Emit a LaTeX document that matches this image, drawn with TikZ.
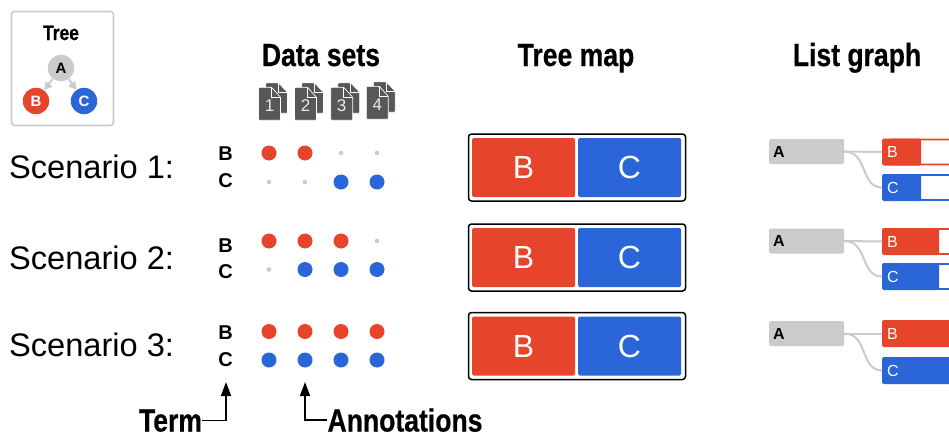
\documentclass[tikz,border=0pt]{standalone}
\usepackage{graphicx}
\usepackage{fontspec}
\setmainfont{Liberation Sans}
\newfontfamily\headfont[BoldFeatures={FakeBold=0.6}]{Liberation Sans}
\usetikzlibrary{arrows.meta}
\definecolor{myred}{HTML}{E6442B}
\definecolor{myblue}{HTML}{2B66D9}
\definecolor{mygray}{HTML}{CBCBCB}
\definecolor{docgray}{HTML}{575757}
\newcommand{\cond}[1]{\scalebox{0.83}[1]{#1}}
\tikzset{
  x=1pt,y=-1pt,
  treebox/.style={draw=mygray,line width=1.6pt,rounded corners=3pt,fill=white},
  treenode/.style={circle,inner sep=0pt,minimum size=26.5pt,font=\bfseries\fontsize{15}{15}\selectfont},
  title/.style={inner sep=0pt,anchor=base,font=\headfont\bfseries\fontsize{32}{32}\selectfont},
  scen/.style={inner sep=0pt,anchor=base west,font=\fontsize{32.6}{32.6}\selectfont},
  term/.style={inner sep=0pt,font=\bfseries\fontsize{20}{20}\selectfont},
  bigdot/.style={circle,inner sep=0pt,minimum size=15pt},
  smalldot/.style={circle,fill=mygray,inner sep=0pt,minimum size=4.6pt},
  mapframe/.style={draw=black,line width=1.5pt,rounded corners=3pt,fill=white,minimum width=217pt,minimum height=67pt,inner sep=0pt},
  mapcell/.style={rounded corners=1.5pt,minimum width=103pt,minimum height=59pt,inner sep=0pt,text=white,font=\fontsize{32}{32}\selectfont},
  listA/.style={fill=mygray,rounded corners=1.5pt,minimum width=75pt,minimum height=25pt,inner sep=0pt,text depth=0pt},
  listlabel/.style={inner sep=0pt,font=\fontsize{16}{16}\selectfont},
  link/.style={draw=mygray,line width=2pt},
  callout/.style={draw=black,line width=1.6pt,-{Triangle[length=14pt,width=10pt]}},
  docpage/.style={fill=docgray,draw=white,line width=0.7pt,rounded corners=1pt},
  treearrow/.style={mygray,line width=2pt,-{Triangle[length=8pt,width=8pt]}},
}
\newcommand{\docicon}[4]{%
  \begin{scope}[shift={(#1,#2)}]
    \path[docpage] (7,-4.5) -- (20,-4.5) -- (29,5) -- (29,26) -- (7,26) -- cycle;
    \draw[white,line width=0.6pt] (20,-4.5) -- (20,5) -- (29,5);
    \path[docpage] (0,0) -- (13,0) -- (22,10) -- (22,33) -- (0,33) -- cycle;
    \draw[white,line width=0.7pt] (13,0) -- (13,10) -- (22,10);
    \node[inner sep=0pt,text=white!92!black,font=\fontsize{17}{17}\selectfont] (#3) at (11,18.5) {#4};
  \end{scope}}
\newcommand{\onedot}[5]{% name, x, y, colour, flag
  \ifnum#5=1 \node[bigdot,fill=#4] (#1) at (#2,#3) {};
  \else \node[smalldot] (#1) at (#2,#3) {};
  \fi}
\newcommand{\dotrow}[6]{% name, y, colour, flags
  \onedot{#1a}{269}{#2}{#3}{#4}
  \onedot{#1b}{305}{#2}{#3}{#5}
  \onedot{#1c}{341}{#2}{#3}{#6}}
\begin{document}
\begin{tikzpicture}
\useasboundingbox (0,0) rectangle (949,434);
% Tree legend
\node[treebox,minimum width=102pt,minimum height=114pt,inner sep=0pt] (legend) at (62.5,68.5) {};
\node[inner sep=0pt,anchor=base,font=\headfont\bfseries\fontsize{21}{21}\selectfont] (treetitle) at (61,40) {\cond{Tree}};
\node[treenode,fill=mygray] (ta) at (61,68) {A};
\node[treenode,fill=myred,text=white] (tb) at (36,101) {B};
\node[treenode,fill=myblue,text=white] (tc) at (84,101) {C};
\draw[treearrow] (ta) -- (tb);
\draw[treearrow] (ta) -- (tc);
% Titles
\node[title] (t1) at (321,66) {\cond{Data sets}};
\node[title] (t2) at (576,66) {\cond{Tree map}};
\node[title] (t3) at (857,66) {\cond{List graph}};
% Documents
\docicon{258.5}{87.3}{d1}{1}
\docicon{294.5}{87.3}{d2}{2}
\docicon{330.7}{87.3}{d3}{3}
\docicon{366.3}{86.3}{d4}{4}
% Scenario labels
\node[scen] (s1) at (9,178.5) {Scenario 1:};
\node[scen] (s2) at (9,269) {Scenario 2:};
\node[scen] (s3) at (9,356) {Scenario 3:};
% Terms
\node[term] (b1) at (225.5,154) {B};
\node[term] (c1) at (225.5,181) {C};
\node[term] (b2) at (225.5,246) {B};
\node[term] (c2) at (225.5,272) {C};
\node[term] (b3) at (225.5,333) {B};
\node[term] (c3) at (225.5,360) {C};
% Dots
\dotrow{ra}{153}{myred}{1}{1}{0}\onedot{ra4}{377}{153}{myred}{0}
\dotrow{rb}{182}{myblue}{0}{0}{1}\onedot{rb4}{377}{182}{myblue}{1}
\dotrow{rc}{241}{myred}{1}{1}{1}\onedot{rc4}{377}{241}{myred}{0}
\dotrow{rd}{269.5}{myblue}{0}{1}{1}\onedot{rd4}{377}{269.5}{myblue}{1}
\dotrow{re}{331.5}{myred}{1}{1}{1}\onedot{re4}{377}{331.5}{myred}{1}
\dotrow{rf}{360}{myblue}{1}{1}{1}\onedot{rf4}{377}{360}{myblue}{1}
% Tree maps and list graphs
\foreach \r/\my/\ay/\by/\cy/\bs/\cs in {1/167.5/151.5/152/187.5/921/921, 2/257.5/241/241.5/276.5/939/939, 3/346/333.5/333.5/370.5/960/960}{
  \node[mapframe] (m\r) at (577,\my) {};
  \node[mapcell,fill=myred] (mb\r) at (523.5,\my) {B};
  \node[mapcell,fill=myblue] (mc\r) at (629.5,\my) {C};
  \node[listA] (la\r) at (806.5,\ay) {};
  \node[listlabel,anchor=west,font=\bfseries\fontsize{16}{16}\selectfont] (lat\r) at (773,\ay) {A};
  % bar tracks
  \draw[myred,line width=1.6pt,fill=white,rounded corners=1.5pt] (890,\by-12.5) rectangle (965,\by+12.5);
  \draw[myblue,line width=1.6pt,fill=white,rounded corners=1.5pt] (890,\cy-12.5) rectangle (965,\cy+12.5);
  \pgfmathsetmacro{\bw}{\bs-882}
  \pgfmathsetmacro{\cw}{\cs-882}
  \node[fill=myred,rounded corners=1.5pt,minimum width=\bw pt,minimum height=27pt,inner sep=0pt,anchor=west] (lb\r) at (882,\by) {};
  \node[fill=myblue,rounded corners=1.5pt,minimum width=\cw pt,minimum height=27pt,inner sep=0pt,anchor=west] (lc\r) at (882,\cy) {};
  \node[listlabel,text=white,anchor=west] (lbt\r) at (887,\by) {B};
  \node[listlabel,text=white,anchor=west] (lct\r) at (887,\cy) {C};
  \draw[link] (la\r.east) -- (lb\r.west);
  \draw[link] (la\r.east) .. controls +(24,0) and +(-22,0) .. (lc\r.west);
}
% Callouts
\node[title] (termlab) at (170.5,431.5) {\cond{Term}};
\node[title] (annlab) at (405,431.5) {\cond{Annotations}};
\coordinate (termtip) at (226,382);
\coordinate (anntip) at (305,382);
\draw[callout] (termlab.east) -| (termtip);
\draw[callout] (annlab.west) -| (anntip);
\end{tikzpicture}
\end{document}
